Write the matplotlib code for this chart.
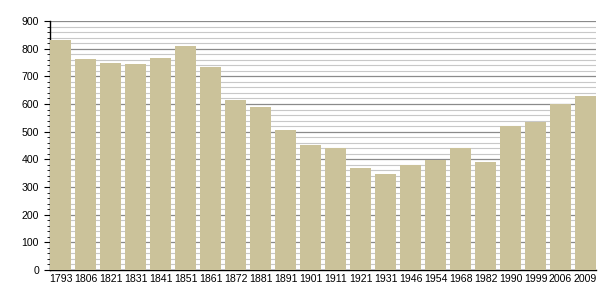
import matplotlib.pyplot as plt
from matplotlib.ticker import MultipleLocator

# Census years and population
years = ['1793', '1806', '1821', '1831', '1841', '1851', '1861', '1872', '1881', '1891', '1901',
         '1911', '1921', '1931', '1946', '1954', '1968', '1982', '1990', '1999', '2006', '2009']
population = [831, 761, 749, 744, 766, 809, 735, 614, 589, 506, 452,
              440, 369, 347, 379, 398, 440, 390, 520, 535, 599, 629]

plt.rcParams['font.family'] = ['Liberation Sans', 'DejaVu Sans']

fig = plt.figure(figsize=(6.05, 3.0), dpi=100)
ax = fig.add_axes([50 / 605, 30 / 300, 546 / 605, 249 / 300])

width = 0.84
pos = list(range(len(years)))
ax.bar(pos, population, width=width, align='edge', color='#cbc29a', zorder=3)

ax.set_xlim(0, len(years) - 1 + width)
ax.set_ylim(0, 900)
ax.set_xticks([p + width / 2 for p in pos])
ax.set_xticklabels(years)
ax.tick_params(axis='x', length=0, labelsize=7.6, pad=3)

ax.yaxis.set_major_locator(MultipleLocator(100))
ax.yaxis.set_minor_locator(MultipleLocator(20))
ax.tick_params(axis='y', which='major', length=4, width=0.8, labelsize=7.6, pad=4)
ax.tick_params(axis='y', which='minor', length=2, width=0.6)

ax.grid(axis='y', which='major', color='#8a8a8a', linewidth=0.9, zorder=1)
ax.grid(axis='y', which='minor', color='#c8c8c8', linewidth=0.8, zorder=1)
ax.set_axisbelow(True)

for s in ['top', 'right']:
    ax.spines[s].set_visible(False)
ax.spines['left'].set_linewidth(1.0)
ax.spines['bottom'].set_linewidth(1.0)

plt.savefig('out.png', dpi=100)
